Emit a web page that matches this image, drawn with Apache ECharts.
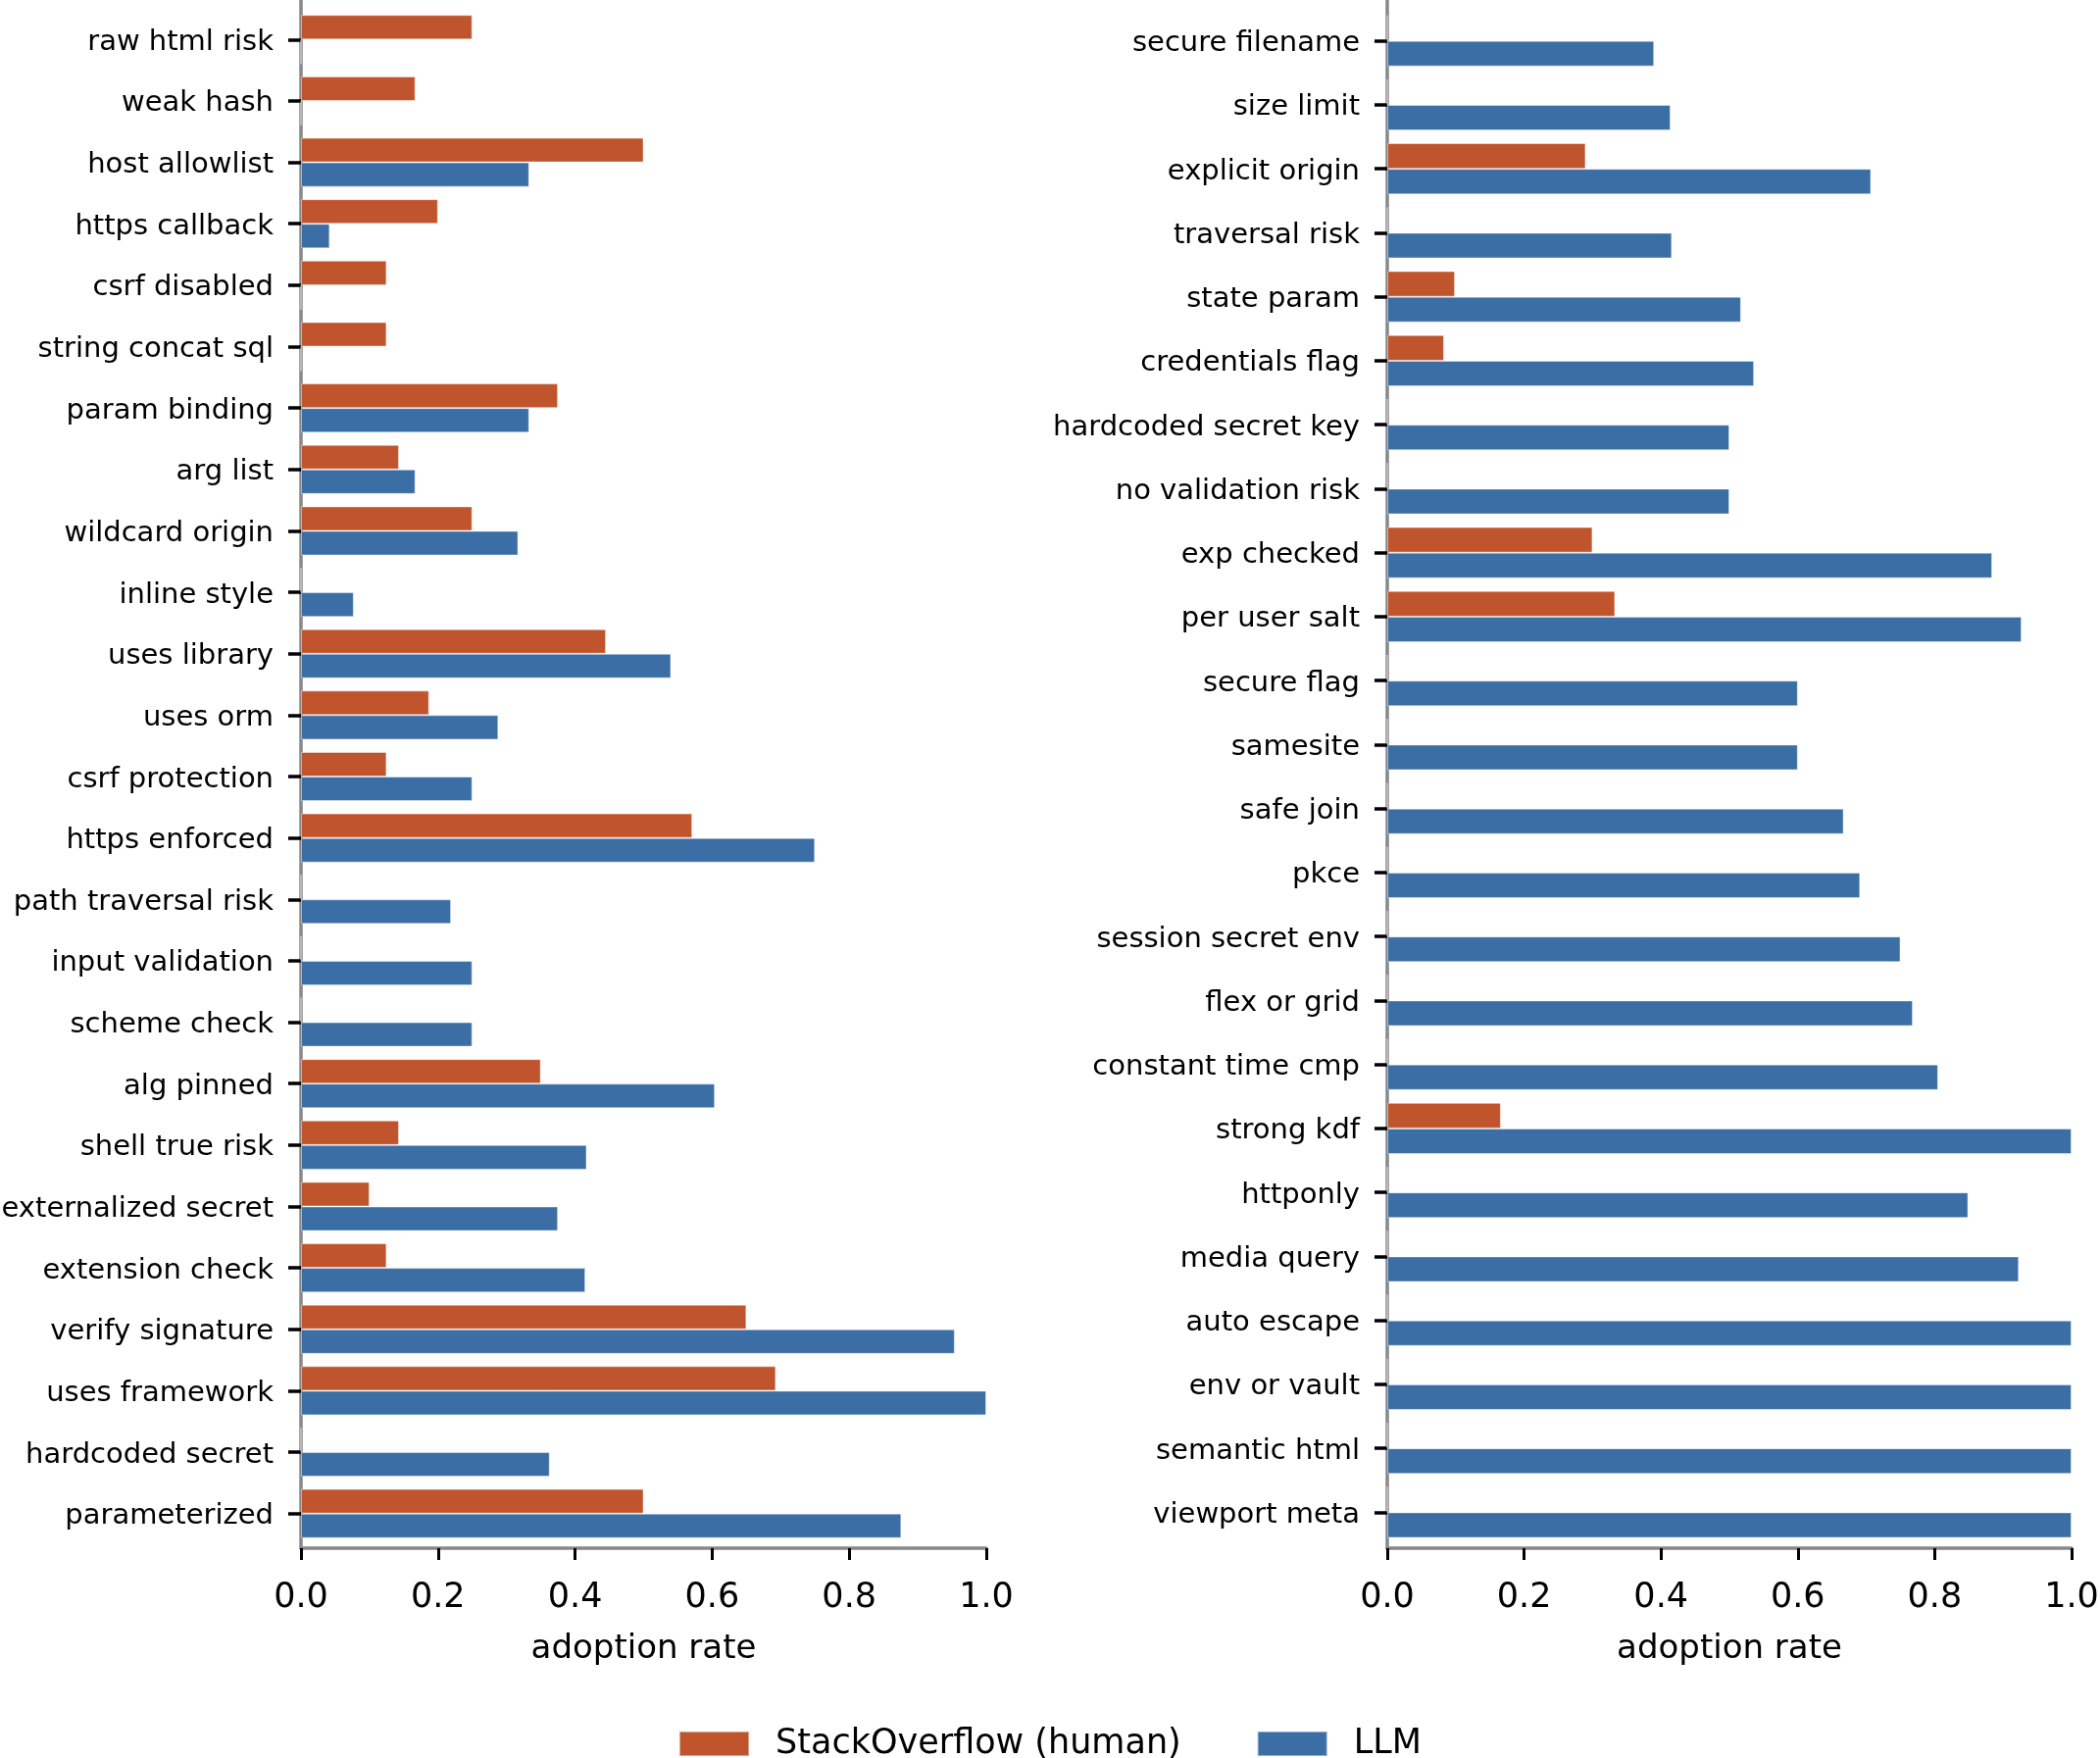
<!DOCTYPE html>
<html>
<head>
<meta charset="utf-8">
<script src="https://cdn.jsdelivr.net/npm/echarts@6/dist/echarts.min.js"></script>
<style>
  html, body { margin: 0; padding: 0; background: #fff; }
  #chart { width: 2142px; height: 1793px; }
</style>
</head>
<body>
<div id="chart"></div>
<script>
// left panel
const leftCats = [
  "raw html risk", "weak hash", "host allowlist", "https callback", "csrf disabled",
  "string concat sql", "param binding", "arg list", "wildcard origin", "inline style",
  "uses library", "uses orm", "csrf protection", "https enforced", "path traversal risk",
  "input validation", "scheme check", "alg pinned", "shell true risk", "externalized secret",
  "extension check", "verify signature", "uses framework", "hardcoded secret", "parameterized"
];
const leftHuman = [
  0.25, 0.167, 0.5, 0.2, 0.125,
  0.125, 0.375, 0.143, 0.25, 0,
  0.445, 0.187, 0.125, 0.571, 0,
  0, 0, 0.35, 0.143, 0.1,
  0.125, 0.65, 0.693, 0, 0.5
];
const leftLLM = [
  0, 0, 0.333, 0.042, 0,
  0, 0.333, 0.167, 0.317, 0.077,
  0.54, 0.288, 0.25, 0.75, 0.219,
  0.25, 0.25, 0.604, 0.417, 0.375,
  0.415, 0.954, 1.0, 0.363, 0.876
];

// right panel
const rightCats = [
  "secure filename", "size limit", "explicit origin", "traversal risk", "state param",
  "credentials flag", "hardcoded secret key", "no validation risk", "exp checked", "per user salt",
  "secure flag", "samesite", "safe join", "pkce", "session secret env",
  "flex or grid", "constant time cmp", "strong kdf", "httponly", "media query",
  "auto escape", "env or vault", "semantic html", "viewport meta"
];
const rightHuman = [
  0, 0, 0.29, 0, 0.099,
  0.083, 0, 0, 0.3, 0.333,
  0, 0, 0, 0, 0,
  0, 0, 0.166, 0, 0,
  0, 0, 0, 0
];
const rightLLM = [
  0.39, 0.414, 0.707, 0.416, 0.517,
  0.536, 0.5, 0.5, 0.884, 0.927,
  0.6, 0.6, 0.667, 0.691, 0.75,
  0.768, 0.805, 1.0, 0.849, 0.923,
  1.0, 1.0, 1.0, 1.0
];

const seriesNames = ["StackOverflow (human)", "LLM"];
const colors = ["#c0552d", "#3b6ea5"];

const FONT = "DejaVu Sans";
const SPINE = "#888888";

const chart = echarts.init(document.getElementById("chart"));

const panels = [
  { left: 307, width: 699 },
  { left: 1415, width: 698 }
];

const grids = [];
const xAxes = [];
const yAxes = [];
panels.forEach((p) => {
  // bar area
  grids.push({ left: p.left, width: p.width, top: 9, height: 1566, outerBoundsMode: "none" });
  // spine area (axes reach a bit past the bars)
  grids.push({ left: p.left, width: p.width, top: 0, height: 1579, outerBoundsMode: "none" });
});

[leftCats, rightCats].forEach((cats, i) => {
  const g = i * 2;
  xAxes.push({
    gridIndex: g, type: "value", min: 0, max: 1, show: false
  });
  xAxes.push({
    gridIndex: g + 1, type: "value", min: 0, max: 1, interval: 0.2,
    axisLine: { show: true, onZero: false, lineStyle: { color: SPINE, width: 3.5 } },
    axisTick: { show: true, length: 12, lineStyle: { color: "#000", width: 3 } },
    axisLabel: {
      margin: 33, fontSize: 35, fontFamily: FONT, color: "#000",
      formatter: (v) => v.toFixed(1)
    },
    splitLine: { show: false },
    name: "adoption rate", nameLocation: "middle", nameGap: 86,
    nameTextStyle: { fontSize: 34, fontFamily: FONT, color: "#000" }
  });
  yAxes.push({
    gridIndex: g, type: "category", inverse: true, data: cats,
    axisLine: { show: false },
    axisTick: { show: true, alignWithLabel: true, length: 13, lineStyle: { color: "#000", width: 3.5 } },
    axisLabel: {
      margin: 28, color: "#000",
      formatter: (v) => "{t|" + v + "}",
      rich: { t: { fontSize: 29, fontFamily: FONT, color: "#000", padding: [6, 0, 0, 0] } }
    }
  });
  yAxes.push({
    gridIndex: g + 1, type: "value", min: 0, max: 1,
    axisLine: { show: true, onZero: false, lineStyle: { color: SPINE, width: 3.5 } },
    axisTick: { show: false }, axisLabel: { show: false }, splitLine: { show: false }
  });
});

function bars(name, data, color, axisIdx) {
  return {
    name, type: "bar", data,
    xAxisIndex: axisIdx, yAxisIndex: axisIdx,
    barGap: "0%", barCategoryGap: "20%",
    itemStyle: { color, borderColor: "rgba(255,255,255,0.45)", borderWidth: 1 },
    emphasis: { disabled: true }
  };
}

const option = {
  animation: false,
  backgroundColor: "#fff",
  textStyle: { fontFamily: FONT },
  grid: grids,
  xAxis: xAxes,
  yAxis: yAxes,
  legend: {
    data: seriesNames,
    bottom: -8, left: "center",
    icon: "rect", itemWidth: 71, itemHeight: 25, itemGap: 77,
    textStyle: { fontSize: 35, fontFamily: FONT, color: "#000", padding: [0, 0, 0, 22] }
  },
  series: [
    bars(seriesNames[0], leftHuman, colors[0], 0),
    bars(seriesNames[1], leftLLM, colors[1], 0),
    bars(seriesNames[0], rightHuman, colors[0], 2),
    bars(seriesNames[1], rightLLM, colors[1], 2)
  ]
};

chart.setOption(option);
</script>
</body>
</html>
